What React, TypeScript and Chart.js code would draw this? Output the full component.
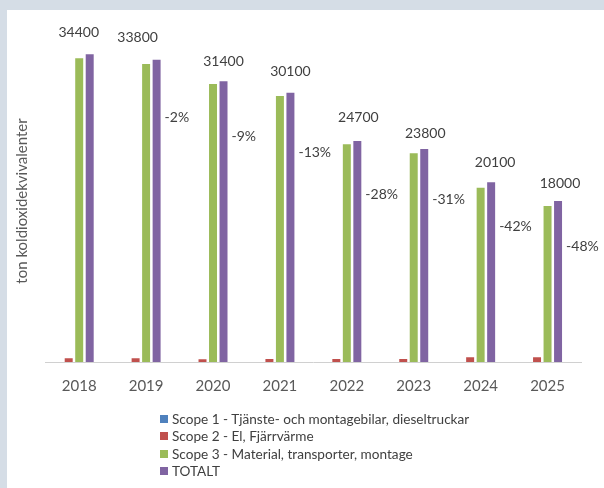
import React, { useEffect, useRef } from "react";
import { Chart, registerables } from "chart.js";

Chart.register(...registerables);

// ---- data ----
const years = ["2018", "2019", "2020", "2021", "2022", "2023", "2024", "2025"];
const scope1 = [0, 0, 0, 0, 0, 0, 0, 0];
const scope2 = [410, 410, 300, 330, 330, 330, 520, 520];
const scope3 = [33950, 33330, 31080, 29740, 24340, 23330, 19490, 17440];
const totalt = [34400, 33800, 31400, 30100, 24700, 23800, 20100, 18000];
const changePct = [null, -2, -9, -13, -28, -31, -42, -48];
// value (in ton) at which each change label sits
const changeLabelAt = [null, 27390, 25160, 23400, 18780, 18220, 15200, 12890];

const seriesNames = [
  "Scope 1 - Tjänste- och montagebilar, dieseltruckar",
  "Scope 2 - El, Fjärrvärme",
  "Scope 3 - Material, transporter, montage",
  "TOTALT",
];
const seriesColors = ["#4f81bd", "#c0504d", "#9bbb59", "#8064a2"];
const yTitle = "ton koldioxidekvivalenter";

// label nudges (px) for the total labels
const totalDx = [-11, -19, 0, 0, 1, 1, 4, 2];
const totalDy = [22, 22, 20, 21, 24, 16, 20, 18];

const FONT = "Lato, 'Open Sans', sans-serif";

const labelPlugin = {
  id: "customLabels",
  afterDatasetsDraw(chart: any) {
    const ctx = chart.ctx;
    ctx.save();
    ctx.fillStyle = "#404040";
    ctx.font = `14px ${FONT}`;
    ctx.textAlign = "center";
    ctx.textBaseline = "middle";
    const mt = chart.getDatasetMeta(3);
    mt.data.forEach((el: any, i: number) => {
      ctx.fillText(String(totalt[i]), el.x + totalDx[i], el.y - totalDy[i]);
    });
    const mp = chart.getDatasetMeta(4);
    ctx.textAlign = "left";
    mp.data.forEach((el: any, i: number) => {
      if (changePct[i] == null) return;
      ctx.fillText(`${changePct[i]}%`, el.x - 2.5, el.y);
    });
    const ca = chart.chartArea;
    ctx.fillStyle = "#595959";
    ctx.font = `15px ${FONT}`;
    ctx.translate(15, (ca.top + ca.bottom) / 2);
    ctx.rotate(-Math.PI / 2);
    ctx.textAlign = "center";
    ctx.fillText(yTitle, 0, 0);
    ctx.restore();
  },
};

export default function App() {
  const ref = useRef<HTMLCanvasElement>(null);
  useEffect(() => {
    const datasets: any[] = [scope1, scope2, scope3, totalt].map((d, i) => ({
      label: seriesNames[i],
      data: d,
      backgroundColor: seriesColors[i],
      borderWidth: 0,
      categoryPercentage: 0.785,
      barPercentage: 0.76,
    }));
    datasets.push({
      label: "change",
      data: changeLabelAt,
      backgroundColor: "rgba(0,0,0,0)",
      borderWidth: 0,
      categoryPercentage: 0.785,
      barPercentage: 0.76,
    });
    const chart = new Chart(ref.current!, {
      type: "bar",
      data: { labels: years, datasets },
      options: {
        responsive: false,
        devicePixelRatio: 1,
        animation: false,
        layout: { padding: { left: 38.75, right: 23, top: 30, bottom: 93 } },
        plugins: { legend: { display: false }, tooltip: { enabled: false } },
        scales: {
          x: {
            grid: { display: false, drawTicks: false },
            border: { display: true, color: "#d0d0d0", width: 1 },
            ticks: { color: "#595959", font: { family: FONT, size: 15 }, padding: 15 },
            afterFit: (scale: any) => {
              scale.height = 33;
            },
          },
          y: { display: false, min: 0, max: 36000 },
        },
      },
      plugins: [labelPlugin],
    });
    return () => chart.destroy();
  }, []);

  return (
    <div
      style={{
        position: "absolute",
        left: 0,
        top: 0,
        width: 604,
        height: 488,
        background: "#d5dde6",
        overflow: "hidden",
      }}
    >
      <div
        style={{
          position: "absolute",
          left: 7,
          top: 10,
          width: 597,
          height: 478,
          background: "#ffffff",
        }}
      >
        <canvas ref={ref} width={597} height={478} style={{ display: "block" }} />
        <div
          style={{
            position: "absolute",
            left: 153,
            top: 400.4,
            fontFamily: FONT,
            fontSize: 13.6,
            color: "#404040",
          }}
        >
          {seriesNames.map((n, i) => (
            <div
              key={n}
              style={{ display: "flex", alignItems: "center", height: 17.3, whiteSpace: "nowrap" }}
            >
              <span
                style={{
                  display: "inline-block",
                  width: 8,
                  height: 8,
                  background: seriesColors[i],
                  marginRight: 4,
                }}
              />
              <span>{n}</span>
            </div>
          ))}
        </div>
      </div>
    </div>
  );
}
